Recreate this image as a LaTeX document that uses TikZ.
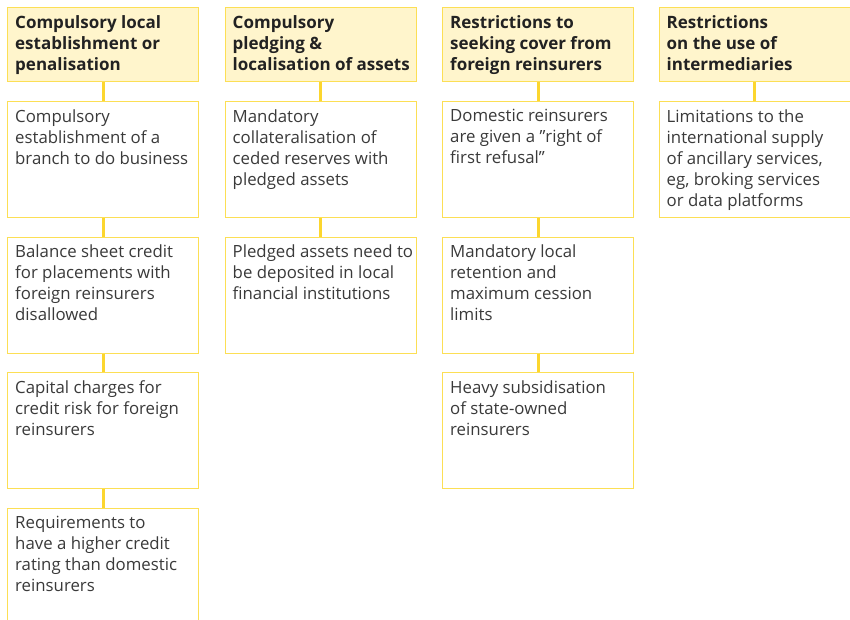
\documentclass[tikz,border=0pt]{standalone}
\usepackage{fontspec}
\setmainfont{Open Sans}
\definecolor{ybord}{HTML}{FCDF55}
\definecolor{yfill}{HTML}{FFF5CC}
\definecolor{yline}{HTML}{FCD62E}
\definecolor{txtc}{HTML}{3A3A3A}
\definecolor{hdrc}{HTML}{222222}
\tikzset{
  hdrbox/.style={draw=ybord, fill=yfill, line width=1.2pt, anchor=north west, minimum width=191pt, minimum height=74pt, inner sep=0pt},
  itembox/.style={draw=ybord, fill=white, line width=1.2pt, anchor=north west, minimum width=191pt, minimum height=116pt, inner sep=0pt},
  bodytxt/.style={anchor=north west, inner sep=0pt, align=left, text=txtc, font=\fontsize{16.8}{21}\selectfont, execute at begin node=\strut},
  hdrtxt/.style={anchor=north west, inner sep=0pt, align=left, text=hdrc, font=\fontsize{17}{21}\selectfont\bfseries, execute at begin node=\strut},
  link/.style={draw=yline, line width=3pt}
}
\begin{document}
\begin{tikzpicture}[x=1pt,y=1pt]
\useasboundingbox (0,0) rectangle (850,-619);
% column 1
\node[hdrbox] (h1) at (7,-7) {};
\node[itembox] (a1) at (7,-101) {};
\node[itembox] (a2) at (7,-236.5) {};
\node[itembox] (a3) at (7,-372) {};
\node[itembox] (a4) at (7,-507.5) {};
% column 2
\node[hdrbox] (h2) at (224.5,-7) {};
\node[itembox] (b1) at (224.5,-101) {};
\node[itembox] (b2) at (224.5,-236.5) {};
% column 3
\node[hdrbox] (h3) at (442,-7) {};
\node[itembox] (c1) at (442,-101) {};
\node[itembox] (c2) at (442,-236.5) {};
\node[itembox] (c3) at (442,-372) {};
% column 4
\node[hdrbox] (h4) at (658.5,-7) {};
\node[itembox] (d1) at (658.5,-101) {};
% connectors
\draw[link] (h1.south) -- (a1.north);
\draw[link] (a1.south) -- (a2.north);
\draw[link] (a2.south) -- (a3.north);
\draw[link] (a3.south) -- (a4.north);
\draw[link] (h2.south) -- (b1.north);
\draw[link] (b1.south) -- (b2.north);
\draw[link] (h3.south) -- (c1.north);
\draw[link] (c1.south) -- (c2.north);
\draw[link] (c2.south) -- (c3.north);
\draw[link] (h4.south) -- (d1.north);
% texts
\node[hdrtxt] (th1) at ([shift={(8,-8.3)}]h1.north west) {Compulsory local\\establishment or\\penalisation};
\node[bodytxt] (ta1) at ([shift={(8,-8.3)}]a1.north west) {Compulsory\\establishment of a\\branch to do business};
\node[bodytxt] (ta2) at ([shift={(8,-8.3)}]a2.north west) {Balance sheet credit\\for placements with\\foreign reinsurers\\disallowed};
\node[bodytxt] (ta3) at ([shift={(8,-8.3)}]a3.north west) {Capital charges for\\credit risk for foreign\\reinsurers};
\node[bodytxt] (ta4) at ([shift={(8,-8.3)}]a4.north west) {Requirements to\\have a higher credit\\rating than domestic\\reinsurers};
\node[hdrtxt] (th2) at ([shift={(8,-8.3)}]h2.north west) {Compulsory\\pledging \&\\localisation of assets};
\node[bodytxt] (tb1) at ([shift={(8,-8.3)}]b1.north west) {Mandatory\\collateralisation of\\ceded reserves with\\pledged assets};
\node[bodytxt] (tb2) at ([shift={(8,-8.3)}]b2.north west) {Pledged assets need to\\be deposited in local\\financial institutions};
\node[hdrtxt] (th3) at ([shift={(8,-8.3)}]h3.north west) {Restrictions to\\seeking cover from\\foreign reinsurers};
\node[bodytxt] (tc1) at ([shift={(8,-8.3)}]c1.north west) {Domestic reinsurers\\are given a ”right of\\first refusal”};
\node[bodytxt] (tc2) at ([shift={(8,-8.3)}]c2.north west) {Mandatory local\\retention and\\maximum cession\\limits};
\node[bodytxt] (tc3) at ([shift={(8,-8.3)}]c3.north west) {Heavy subsidisation\\of state-owned\\reinsurers};
\node[hdrtxt] (th4) at ([shift={(8,-8.3)}]h4.north west) {Restrictions\\on the use of\\intermediaries};
\node[bodytxt] (td1) at ([shift={(8,-8.3)}]d1.north west) {Limitations to the\\international supply\\of ancillary services,\\eg, broking services\\or data platforms};
\end{tikzpicture}
\end{document}
